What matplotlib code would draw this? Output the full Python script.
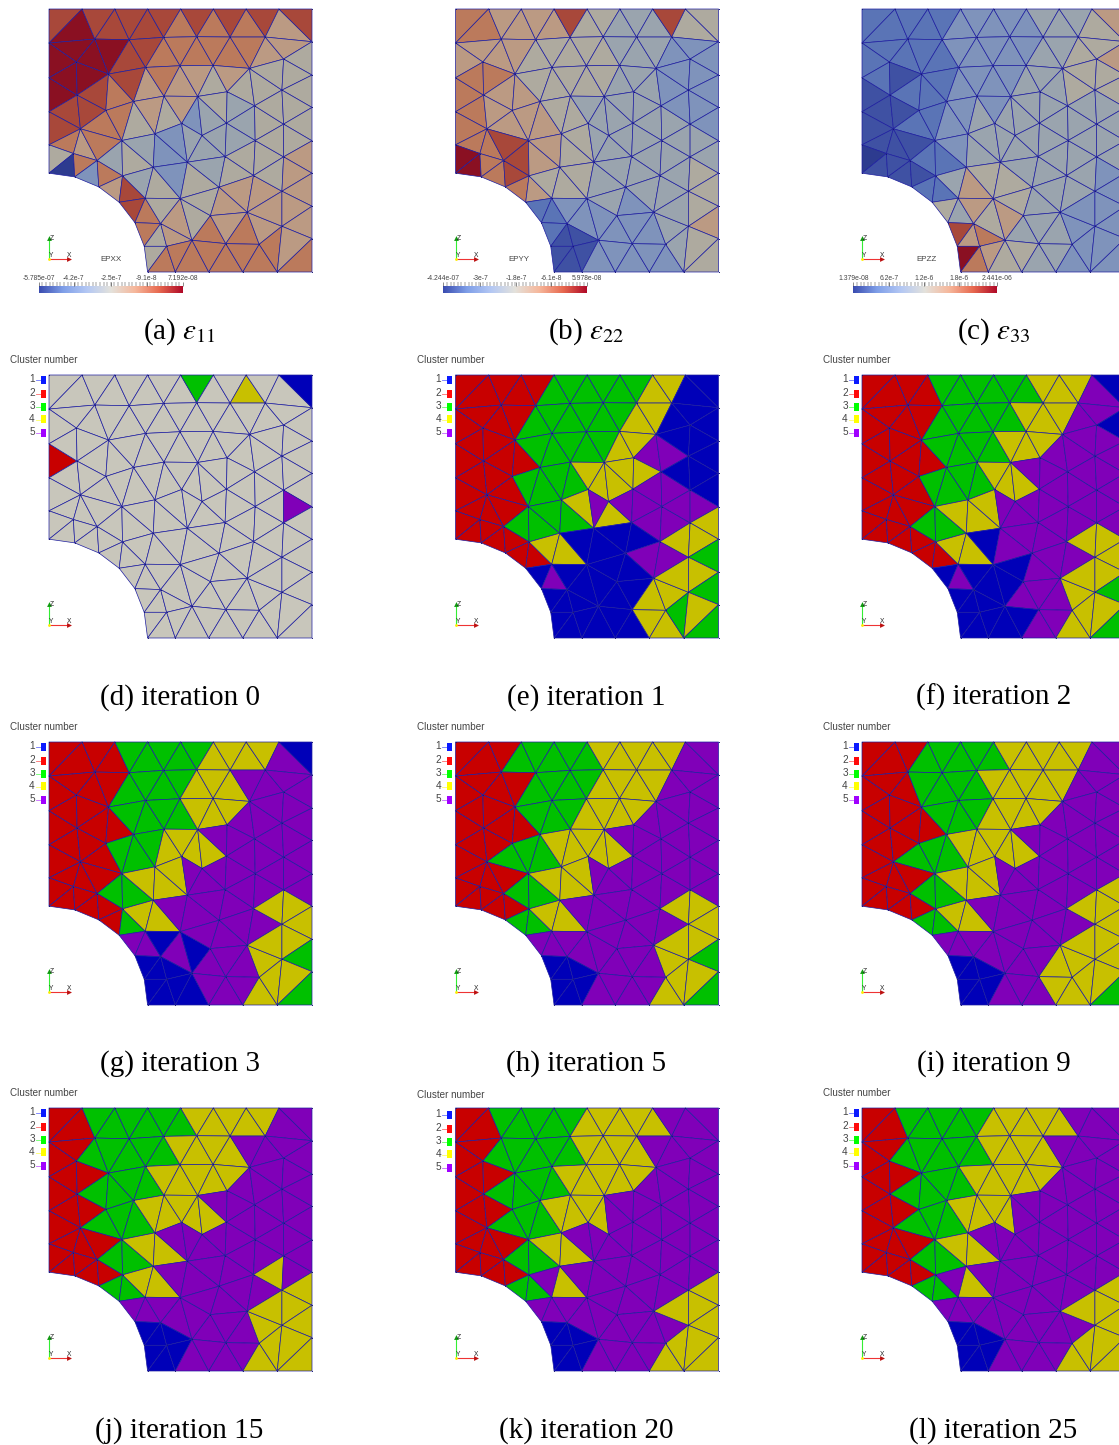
import matplotlib
matplotlib.use("Agg")
import matplotlib.pyplot as plt
import numpy as np
from matplotlib.colors import ListedColormap, LinearSegmentedColormap
from matplotlib.patches import Rectangle

plt.rcParams['font.family'] = ['Liberation Sans', 'DejaVu Sans']
plt.rcParams['mathtext.fontset'] = 'stix'

# ---- mesh nodes (plate coordinates) ----
NODE_NAMES = ("T0 T1 T2 T3 T4 T5 T6 T7 T8 "
              "A0 A1 A2 A3 A4 A5 A6 A7 "
              "L1 B0 B1 B2 B3 B4 B5 B6 B7 "
              "L2 C0 C1 C2 C3 C4 C5 C6 C7 C8 "
              "L3 D0 D1 D2 D3 D4 D5 D6 D7 D8 "
              "L4 E0 E1 E2 E3 E4 E5 E6 E7 E8 "
              "H1 H2 H3 H4 H5 H6 "
              "F0 F1 F2 F3 F4 F5 F6 F7 F8 F9 "
              "G0 G1 G2 G3 b1 b2 b3 b4 b5").split()
NODE_X = [148, 247, 345, 443, 542, 640, 738, 836, 935,
          148, 285, 388, 491, 590, 690, 795, 935,
          148, 230, 326, 437, 540, 639, 748, 850, 935,
          148, 232, 318, 401, 492, 593, 681, 763, 845, 935,
          148, 242, 366, 465, 545, 606, 679, 765, 850, 935,
          148, 221, 292, 368, 460, 562, 675, 760, 850, 935,
          225, 297, 358, 405, 433, 443,
          436, 541, 657, 845, 935, 741, 631, 482, 845, 935,
          576, 677, 777, 500, 526, 626, 728, 831, 935]
NODE_Y = [90, 90, 90, 90, 90, 90, 90, 90, 90,
          192, 180, 182, 175, 173, 174, 174, 188,
          296, 249, 285, 265, 260, 259, 268, 240, 288,
          398, 348, 394, 367, 351, 352, 338, 380, 333, 385,
          497, 449, 484, 464, 433, 469, 432, 484, 435, 485,
          582, 523, 544, 590, 564, 549, 532, 589, 533, 582,
          593, 623, 669, 730, 801, 878,
          657, 658, 624, 636, 681, 699, 709, 733, 741, 778,
          783, 793, 795, 801, 878, 878, 878, 878, 878]

# ---- mesh elements, listed band by band from the top ----
BAND_TRIS = [
    "T0T1A0 T1A1A0 T1T2A1 T2A2A1 T2T3A2 T3A3A2 T3T4A3 T4A4A3 T4T5A4 T5A5A4 T5T6A5 T6A6A5 T6T7A6 T7A7A6 T7T8A7",
    "A0A1B0 A0B0L1 A1B1B0 A1A2B1 A2B2B1 A2A3B2 A3B3B2 A3A4B3 A4B4B3 A4A5B4 A5B5B4 A5A6B5 A6B6B5 A6A7B6 A7B7B6",
    "L1C0L2 L1B0C0 B0B1C0 B1C1C0 B1C2C1 B1B2C2 B2C3C2 B2B3C3 B3C4C3 B3B4C4 B4C5C4 B4B5C5 B5C6C5 B5C7C6 B5B6C7 B6B7C7 B7C8C7",
    "L2C0D0 C0C1D0 C1D1D0 C1C2D1 C2D2D1 C2C3D2 C3D3D2 C3C4D3 C4D4D3 C4D5D4 C4C5D5 C5C6D5 C6D6D5 C6D7D6 C6C7D7 C7C8D7 C8D8D7",
    "L2D0L3 L3D0E0 D0E1E0 D0D1E1 D1E2E1 D1E3E2 D1D2E3 D2E4E3 D2D3E4 D3D4E4 D4E5E4 D4D5E5 D5D6E5 D6E6E5 D6E7E6 D6D7E7 D7D8E7 D8E8E7",
    "L3E0L4 L4E0H1 E0E1H1 H1E1H2 E1E2H2 H2E2H3 E2F0H3 E2E3F0 E3F1F0 E3E4F1 E4F2F1 E4E5F2 E5E6F2 E6F5F2 E6F3F5 E6E7F3 E7E8F3 E8F4F3",
    "H3F0H4 F0F7H4 F0F1F7 F1G0F7 F1F6G0 F1F2F6 F2F5F6 F6G1G0 F6F5G1 F5G2G1 F5F8G2 F5F3F8 F3F4F8 F4F9F8",
    "H4F7H5 H5F7G3 F7G0G3 H5G3H6 G3b1H6 G3G0b1 G0b2b1 G0G1b2 G1b3b2 G1G2b3 G2b4b3 G2F8b4 F8F9b4 F9b5b4",
]

# ---- strain level per element (0 = lowest ... 9 = highest of each field) ----
EPS11 = ["898888878787868", "999988777777665", "99987867665655555", "88775656345445555",
         "876745433444455556", "507376845354566566", "87565567676666", "75657777777767"]
EPS22 = ["776666855444855", "666655555444333", "77766555554443333", "76666554444444333",
         "777886655444444444", "997787655544444455", "22333433334456", "21111133333455"]
EPS33 = ["222223333344456", "222223333344556", "12122233334445555", "11223343444444444",
         "111122344444444444", "011112246554444433", "54656544443333", "86797655443333"]

# ---- cluster number per element (N = unassigned) ----
ITER0 = ["NNNNNNNNGNNYNNB", "NNNNNNNNNNNNNNN", "RNNNNNNNNNNNNNNNN", "NNNNNNNNNNNNNNNNN",
         "NNNNNNNNNNNNNNNNPN", "NNNNNNNNNNNNNNNNNN", "NNNNNNNNNNNNNN", "NNNNNNNNNNNNNN"]
ITER1 = ["RRRRRGGGGGGYYBB", "RRRRGGGGGGYYBBB", "RRRRRGGGGGYYPPBBB", "RRRGGGGYYYYYPPBBB",
         "RRRRGGGGYPYPPPPPPY", "RRRRRRRYYBBBBPPYYG", "BPBBBBBBBYYYYG", "BBBBBBBBBYYGYG"]
ITER2 = ["RRRRGGGGGGYYYPB", "RRRRGGGGGYYYPPB", "RRRRRGGGGYYYPPPPP", "RRRGGGGYYYPPPPPPP",
         "RRRRGGYYYPPPPPPPPP", "RRRRRRRYYBPPPPPYYY", "BPBBBBPPPPYYYG", "BBBBBBBBPPYYYG"]
ITER3 = ["RRRRGGGGGYYYYPB", "RRRRGGGGYYYPPPP", "RRRRRGGGGYYYPPPPP", "RRRGGGYYYYPPPPPPP",
         "RRRRGGYYYPPPPPPPPP", "RRRRRRGYYPPPPPPYYY", "PPBPBPPPPPYYYG", "BBBBBBBPPPYYYG"]
ITER5 = ["RRRGGGGGYYYYYPP", "RRRRGGGGYYYYPPP", "RRRRRGGGYYYYPPPPP", "RRGGGYYYYYPPPPPPP",
         "RRRRGGYYYPPPPPPPPP", "RRRRRGGYYPPPPPPYYY", "PPPPPPPPPPYYYG", "BBBBBBPPPPYYYG"]
ITER9 = ["RRRGGGGGYYYYYPP", "RRRGGGGYYYYYPPP", "RRRRRGGGYYYYPPPPP", "RRGGGYYYYYPPPPPPP",
         "RRRRGGYYYPPPPPPPPY", "RRRRRGGYYPPPPPPYYY", "PPPPPPPPPYYYYY", "BBBBBBPPPYYYYG"]
ITER15 = ["RRGGGGGGYYYYYPP", "RRGGGGGYYYYPPPP", "RRRGGGGYYYYYPPPPP", "RRGGGYYYYYPPPPPPP",
          "RRRRGGYYPPPPPPPPPP", "RRRRRGGYYPPPPPPYPY", "PPPPPPPPPPYYYY", "BBBBBBPPPPYYYY"]
ITER20 = ["RRGGGGGYYYYYPPP", "RRGGGGGYYYYPPPP", "RRRGGGGYYYYYPPPPP", "RRGGGYYYYPPPPPPPP",
          "RRRRGGYYPPPPPPPPPP", "RRRRRGGPYPPPPPPPPY", "PPPPPPPPPPPYYY", "BBBBBBPPPPYYYY"]
ITER25 = ["RRGGGGGYYYYYPPP", "RRGGGGGYYYYPPPP", "RRRGGGGYYYYYPPPPP", "RRGGGYYYYPPPPPPPP",
          "RRRRGGYYPPPPPPPPPP", "RRRRRGGPYPPPPPPPPY", "PPPPPPPPPPPYYY", "BBBBBBPPPPYYYY"]

# ---- texts ----
CAPTIONS = [r"(a) $\varepsilon_{11}$", r"(b) $\varepsilon_{22}$", r"(c) $\varepsilon_{33}$",
            "(d) iteration 0", "(e) iteration 1", "(f) iteration 2",
            "(g) iteration 3", "(h) iteration 5", "(i) iteration 9",
            "(j) iteration 15", "(k) iteration 20", "(l) iteration 25"]
FIELD_NAMES = ["EPXX", "EPYY", "EPZZ"]
BAR_TICKS = [[-5.785e-07, -4.2e-7, -2.5e-7, -9.1e-8, 7.192e-08],
             [-4.244e-07, -3e-7, -1.8e-7, -6.1e-8, 5.978e-08],
             [1.379e-08, 6.2e-7, 1.2e-6, 1.8e-6, 2.441e-06]]
BAR_LABELS = [["-5.785e-07", "-4.2e-7", "-2.5e-7", "-9.1e-8", "7.192e-08"],
              ["-4.244e-07", "-3e-7", "-1.8e-7", "-6.1e-8", "5.978e-08"],
              ["1.379e-08", "6.2e-7", "1.2e-6", "1.8e-6", "2.441e-06"]]
CLUSTER_IDS = ["1", "2", "3", "4", "5"]

# ---- colours ----
CLUSTER_CODES = "BRGYPN"
CLUSTER_COLORS = ["#0000b8", "#c80000", "#00c000", "#c8c000", "#8000b8", "#c8c6bb"]
LEGEND_COLORS = ["#0a1aff", "#ff0a0a", "#00ff00", "#ffff00", "#a000ff"]
STRAIN_COLORS = ["#2d3b8f", "#3f51a3", "#5a74b6", "#7f93bb", "#9aa4ae",
                 "#aeaa9f", "#bb9a83", "#bb7a5c", "#a8483a", "#8a1022"]
BAR_CMAP = LinearSegmentedColormap.from_list(
    "bar", ["#3a4cb0", "#7f9fe8", "#b4c8f4", "#e4e2dc", "#f6b89c", "#e86a50", "#b00a28"])
EDGE = "#1e1ea0d0"

W, H = 1119, 1445
fig = plt.figure(figsize=(W / 100, H / 100), dpi=100, facecolor="white")

names = {n: i for i, n in enumerate(NODE_NAMES)}
triangles = []
for band in BAND_TRIS:
    for t in band.split():
        triangles.append([names[t[0:2]], names[t[2:4]], names[t[4:6]]])
triangles = np.array(triangles)
node_x = np.array(NODE_X, float)
node_y = np.array(NODE_Y, float)

COL_LEFT = [49, 455.5, 862]
ROW_TOP = [9, 375, 742, 1108]
COL_CENTER = [179.5, 586.5, 993.5]
ROW_BASE = [339, 705, 1071, 1438]
BAR_LEFT = [38.7, 443.3, 853.3]
SIZE = 263


def make_axes(col, row):
    ax = fig.add_axes([COL_LEFT[col] / W, 1 - (ROW_TOP[row] + SIZE) / H, SIZE / W, SIZE / H])
    ax.set_xlim(148, 935)
    ax.set_ylim(878, 90)
    ax.axis("off")
    return ax


def draw_mesh(ax, values, cmap, vmax):
    coll = ax.tripcolor(node_x, node_y, triangles, facecolors=values, cmap=cmap,
                        vmin=0, vmax=vmax, edgecolors=EDGE, linewidth=0.5)
    coll.set_antialiased(True)
    coll.set_snap(False)
    coll.set_clip_on(False)
    ax.plot(node_x, node_y, ".", ms=1.4, color="#1a1a70", mew=0, clip_on=False)


def draw_triad(ax):
    ax.plot([148, 148], [838, 778], color="#33ee33", lw=0.8, clip_on=False)
    ax.plot([148, 212], [838, 838], color="#ee3333", lw=0.8, clip_on=False)
    ax.plot([148], [777], marker="^", ms=3.5, color="#119911", mew=0, clip_on=False)
    ax.plot([208], [838], marker=">", ms=3.5, color="#bb1111", mew=0, clip_on=False)
    ax.plot([148], [838], marker="o", ms=2, color="#ffee00", mew=0, clip_on=False)
    for s, x, y in (("Z", 157, 777), ("X", 209, 828), ("Y", 155, 830)):
        ax.text(x, y, s, fontsize=4.8, color="#222222", ha="center", va="center", clip_on=False)


def draw_legend(ax, dy):
    ax.text(32, 45 + dy, "Cluster number", fontsize=7.1, color="#444444", ha="left",
            va="center", clip_on=False)
    for lab, col, y in zip(CLUSTER_IDS, LEGEND_COLORS, [103, 144, 183, 221, 261]):
        ax.text(97, y + dy, lab, fontsize=7.2, color="#444444", ha="center", va="center", clip_on=False)
        ax.plot([108, 122], [y + 3 + dy] * 2, color=col, lw=0.6, alpha=0.6, clip_on=False)
        ax.add_patch(Rectangle((124, y - 10 + dy), 14, 24, facecolor=col, edgecolor="none", clip_on=False))


def draw_bar(col, vmin, vmax, ticks, labels, name, ax):
    bax = fig.add_axes([BAR_LEFT[col] / W, 1 - 293 / H, 144 / W, 7 / H])
    bax.imshow(np.linspace(0, 1, 256)[None, :], aspect="auto", cmap=BAR_CMAP,
               extent=(vmin, vmax, 0, 1))
    bax.set_xlim(vmin, vmax)
    bax.set_yticks([])
    for s in bax.spines.values():
        s.set_visible(False)
    bax.xaxis.tick_top()
    bax.set_xticks(ticks)
    bax.set_xticklabels(labels, fontsize=4.9, color="#444444")
    bax.set_xticks(np.linspace(vmin, vmax, 41), minor=True)
    bax.tick_params(axis="x", which="major", length=3.2, width=0.4, pad=-0.6, color="#333333")
    bax.tick_params(axis="x", which="minor", length=2.8, width=0.35, color="#444444")
    ax.text(334 + col * 3, 841, name, fontsize=5.8, color="#444444", ha="center", va="center",
            clip_on=False)


strain_cmap = ListedColormap(STRAIN_COLORS)
for k, (levels, ticks, labels, name) in enumerate(zip((EPS11, EPS22, EPS33), BAR_TICKS, BAR_LABELS, FIELD_NAMES)):
    ax = make_axes(k, 0)
    vals = np.array([int(c) for c in "".join(levels)], float)
    draw_mesh(ax, vals, strain_cmap, 9)
    draw_triad(ax)
    draw_bar(k, ticks[0], ticks[-1], ticks, labels, name, ax)

cluster_cmap = ListedColormap(CLUSTER_COLORS)
panels = [ITER0, ITER1, ITER2, ITER3, ITER5, ITER9, ITER15, ITER20, ITER25]
for p, labels in enumerate(panels):
    col, row = p % 3, p // 3 + 1
    ax = make_axes(col, row)
    vals = np.array([CLUSTER_CODES.index(c) for c in "".join(labels)], float)
    draw_mesh(ax, vals, cluster_cmap, 5)
    draw_triad(ax)
    draw_legend(ax, 6 if p == 7 else 0)

for i, cap in enumerate(CAPTIONS):
    fig.text(COL_CENTER[i % 3] / W, 1 - ROW_BASE[i // 3] / H, cap, ha="center", va="baseline",
             fontsize=21, family=["Liberation Serif", "DejaVu Serif"], color="black")

fig.savefig("out.png", dpi=100)
